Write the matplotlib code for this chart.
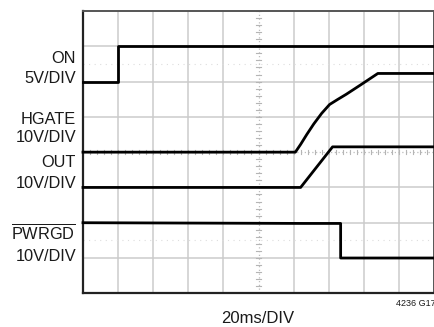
import numpy as np
import matplotlib
matplotlib.use("Agg")
import matplotlib.pyplot as plt

plt.rcParams["font.family"] = ["Liberation Sans", "DejaVu Sans"]
plt.rcParams["mathtext.fontset"] = "custom"
plt.rcParams["mathtext.rm"] = "Liberation Sans"

# Scope settings
time_per_div_ms = 20.0
n_xdiv, n_ydiv = 10, 8

# ON input, 5V/DIV, ground at division 6
on_t = [0.0, 20.2, 20.2, 200.0]
on_v = [0.0, 0.0, 5.0, 5.0]
on_scale, on_ground = 5.0, 6.0

# HGATE, 10V/DIV, ground at division 4
hgate_t = [0.0, 121.0, 124.0, 127.5, 131.5, 136.0, 140.5, 145.0, 150.0, 158.0, 168.0, 200.0]
hgate_v = [0.0, 0.0, 2.2, 5.0, 8.0, 11.0, 13.5, 14.9, 16.4, 19.0, 22.3, 22.3]
hgate_scale, hgate_ground = 10.0, 4.0

# OUT, 10V/DIV, ground at division 3
out_t = [0.0, 124.0, 142.2, 200.0]
out_v = [0.0, 0.0, 11.5, 11.5]
out_scale, out_ground = 10.0, 3.0

# PWRGD (active low), 10V/DIV, ground at division 1
pwrgd_t = [0.0, 125.0, 146.8, 146.8, 200.0]
pwrgd_v = [10.0, 9.8, 9.8, 0.0, 0.0]
pwrgd_scale, pwrgd_ground = 10.0, 1.0

channel_labels = [
    ("ON", 6.53), ("5V/DIV", 5.95),
    ("HGATE", 4.80), ("10V/DIV", 4.29),
    ("OUT", 3.57), ("10V/DIV", 2.97),
    (r"$\overline{\mathrm{PWRGD}}$", 1.53), ("10V/DIV", 0.92),
]
time_label = "20ms/DIV"
figure_id = "4236 G17"

fig = plt.figure(figsize=(4.35, 3.27), dpi=100)
ax = fig.add_axes([83 / 435, 33.7 / 327, 351 / 435, 282.3 / 327])
ax.set_xlim(0, n_xdiv)
ax.set_ylim(0, n_ydiv)
ax.set_xticks([])
ax.set_yticks([])

grid_c = "#cbcbcb"
for i in range(1, n_xdiv):
    if i == n_xdiv // 2:
        continue
    ax.axvline(i, color=grid_c, lw=1.1, zorder=1)
for j in range(1, n_ydiv):
    if j == n_ydiv // 2:
        continue
    ax.axhline(j, color=grid_c, lw=1.1, zorder=1)

# center graticule with minor ticks
ax.axvline(n_xdiv / 2, color="#bdbdbd", lw=0.9, ls=(0, (1, 2)), zorder=1)
ax.axhline(n_ydiv / 2, color="#bdbdbd", lw=0.9, ls=(0, (1, 2)), zorder=1)
for k in np.arange(0, n_ydiv + 0.01, 0.2):
    ax.plot([n_xdiv / 2 - 0.06, n_xdiv / 2 + 0.06], [k, k], color="#b5b5b5", lw=0.8, zorder=1)
for k in np.arange(0, n_xdiv + 0.01, 0.2):
    ax.plot([k, k], [n_ydiv / 2 - 0.06, n_ydiv / 2 + 0.06], color="#b5b5b5", lw=0.8, zorder=1)

# faint reference dotted lines
for yref in (6.5, 1.5):
    ax.axhline(yref, color="#dddddd", lw=0.8, ls=(0, (1, 4)), zorder=1)


def draw_trace(t, v, scale, ground):
    x = np.asarray(t) / time_per_div_ms
    y = ground + np.asarray(v) / scale
    ax.plot(x, y, color="black", lw=2.0, solid_joinstyle="round", zorder=3, clip_on=False)


draw_trace(on_t, on_v, on_scale, on_ground)
draw_trace(hgate_t, hgate_v, hgate_scale, hgate_ground)
draw_trace(out_t, out_v, out_scale, out_ground)
draw_trace(pwrgd_t, pwrgd_v, pwrgd_scale, pwrgd_ground)

for side in ("left", "bottom"):
    ax.spines[side].set_color("#222222")
    ax.spines[side].set_linewidth(1.6)
for side in ("top", "right"):
    ax.spines[side].set_color("#555555")
    ax.spines[side].set_linewidth(1.4)

for text, ypos in channel_labels:
    ax.text(-0.2, ypos, text, ha="right", va="baseline", fontsize=11.8,
            color="#1a1a1a", clip_on=False)

fig.text(221 / 435, 1 - 323.3 / 327, time_label, ha="left", va="baseline",
         fontsize=12, color="#1a1a1a")
fig.text(436 / 435, 1 - 306.5 / 327, figure_id, ha="right", va="baseline",
         fontsize=6.5, color="#1a1a1a")

fig.savefig("out.png", dpi=100)
